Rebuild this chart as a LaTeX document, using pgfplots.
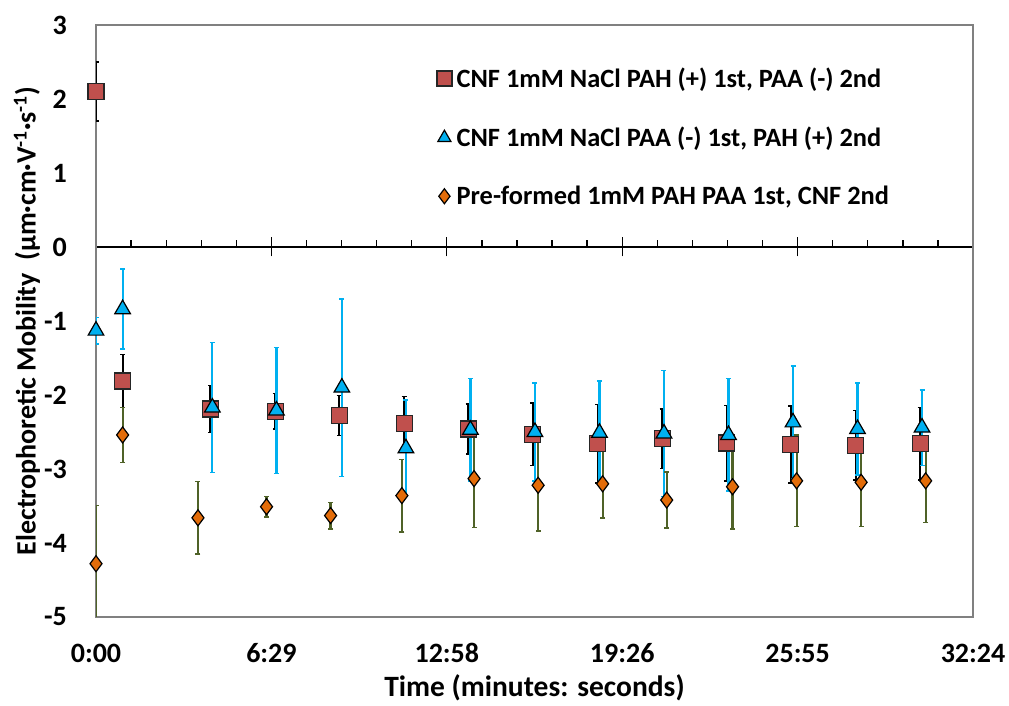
\documentclass[border=0pt]{standalone}
\usepackage{fontspec}
\setmainfont{Carlito}
\usepackage{pgfplots}
\pgfplotsset{compat=1.18}
\usepackage{pgfplotstable}

\definecolor{sqfill}{HTML}{C0504D}
\definecolor{trifill}{HTML}{00B0F0}
\definecolor{dmfill}{HTML}{E36C09}
\definecolor{dmerr}{HTML}{4F6228}

% time in seconds, mobility, standard deviation
\pgfplotstableread{
t    mu     err
0     2.10  0.40
59   -1.81  0.36
254  -2.19  0.32
397  -2.22  0.24
539  -2.28  0.27
683  -2.38  0.36
825  -2.46  0.34
968  -2.53  0.42
1112 -2.66  0.53
1255 -2.59  0.40
1398 -2.65  0.51
1540 -2.67  0.52
1684 -2.68  0.47
1827 -2.66  0.49
}\pahfirst

\pgfplotstableread{
t    mu     err
0    -1.13  0.18
59   -0.84  0.54
258  -2.17  0.88
400  -2.21  0.85
545  -1.90  1.20
687  -2.72  0.65
830  -2.47  0.69
973  -2.50  0.66
1116 -2.51  0.70
1259 -2.52  0.85
1402 -2.54  0.76
1545 -2.37  0.76
1688 -2.46  0.62
1831 -2.44  0.51
}\paafirst

\pgfplotstableread{
t    mu     err
0    -4.28  0.79
59   -2.54  0.37
226  -3.66  0.49
378  -3.51  0.14
520  -3.63  0.18
678  -3.36  0.49
838  -3.13  0.66
980  -3.22  0.62
1123 -3.20  0.46
1265 -3.42  0.38
1411 -3.24  0.57
1553 -3.16  0.62
1696 -3.18  0.60
1839 -3.16  0.56
}\preformed

\pgfplotsset{
  errbars/.style={
    only marks, mark=none, forget plot,
    error bars/.cd, y dir=both, y explicit,
    error bar style={line width=2.2pt, color=#1},
    error mark options={rotate=90, mark size=2.5pt, line width=1.5pt, color=#1},
  },
}

\begin{document}
\begin{tikzpicture}
\useasboundingbox (0,0) rectangle (1009pt,706pt);

% zero line with Excel-style ticks
\begin{axis}[
  at={(96pt,89pt)}, anchor=south west,
  scale only axis, width=877pt, height=592pt,
  xmin=0, xmax=1944, ymin=-5, ymax=3,
  axis x line=middle, axis y line=none,
  x axis line style={-, black, line width=1.3pt},
  xtick={0,388.8,777.6,1166.4,1555.2,1944},
  xticklabels={}, ytick=\empty,
  hide obscured x ticks=false,
  minor x tick num=4,
  tick align=center,
  major tick length=19pt, minor tick length=7pt,
  major tick style={black, line width=1.3pt},
  minor tick style={black, line width=1.3pt, yshift=3.5pt},
]
\end{axis}

\begin{axis}[
  at={(96pt,89pt)}, anchor=south west,
  scale only axis, width=877pt, height=592pt,
  xmin=0, xmax=1944, ymin=-5, ymax=3,
  axis line style={draw=gray, line width=1.5pt},
  xtick={0,388.8,777.6,1166.4,1555.2,1944},
  xticklabels={0:00,6:29,12:58,19:26,25:55,32:24},
  ytick={-5,-4,-3,-2,-1,0,1,2,3},
  yticklabels={-5,-4,-3,-2,-1,0,1,2,3},
  major tick length=0pt,
  tick label style={font=\fontsize{28}{30}\selectfont\bfseries},
  xticklabel style={anchor=base, inner sep=0pt, yshift=-46pt},
  yticklabel style={anchor=east, inner sep=0pt, xshift=-29pt},
  xlabel={Time (minutes: seconds)},
  every axis x label/.style={at={(rel axis cs:0.5,0)}, anchor=base, yshift=-80pt,
    font=\fontsize{29.5}{32}\selectfont\bfseries},
  ylabel={Electrophoretic Mobility\ \ (µm·cm·V\textsuperscript{-1}·s\textsuperscript{-1})},
  every axis y label/.style={at={(rel axis cs:0,0.5)}, rotate=90, anchor=center, yshift=69pt,
    font=\fontsize{28}{32}\selectfont\bfseries},
  legend style={draw=none, fill=none, at={(rel axis cs:0.3877,0.931)}, anchor=north west,
    font=\fontsize{26.4}{28}\selectfont\bfseries, row sep=34pt, inner sep=0pt},
  legend cell align=left,
  legend image code/.code={%
    \path (0pt,0pt) (18pt,0pt);
    \draw[mark repeat=2, mark phase=2, mark size=7.5pt, #1]
      plot coordinates {(0pt,0pt) (8pt,0pt) (16pt,0pt)};
  },
]
% error bars first, markers on top
\addplot[errbars=black] table[x=t, y=mu, y error=err] {\pahfirst};
\addplot[errbars=trifill] table[x=t, y=mu, y error=err] {\paafirst};
\addplot[errbars=dmerr] table[x=t, y=mu, y error=err] {\preformed};

\addplot[only marks, mark=square*, mark size=8pt,
  mark options={fill=sqfill, draw=black!85, line width=1.2pt}]
  table[x=t, y=mu] {\pahfirst};
\addlegendentry{CNF 1mM NaCl PAH (+) 1st, PAA (-) 2nd}
\addplot[only marks, mark=triangle*, mark size=9pt,
  mark options={fill=trifill, draw=black, line width=1.2pt}]
  table[x=t, y=mu] {\paafirst};
\addlegendentry{CNF 1mM NaCl PAA (-) 1st, PAH (+) 2nd}
\addplot[only marks, mark=diamond*, mark size=8pt,
  mark options={fill=dmfill, draw=black, line width=1.2pt}]
  table[x=t, y=mu] {\preformed};
\addlegendentry{Pre-formed 1mM PAH PAA 1st, CNF 2nd}
\end{axis}
\end{tikzpicture}
\end{document}
